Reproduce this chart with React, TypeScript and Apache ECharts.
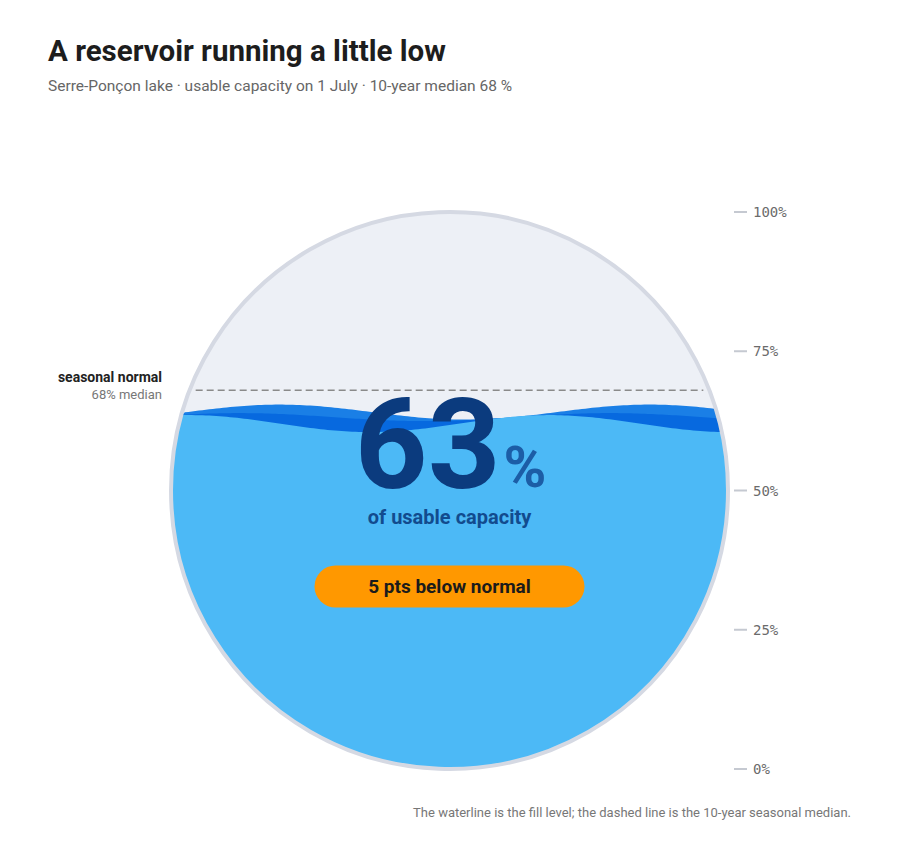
import React, { useEffect, useRef } from 'react';
import * as echarts from 'echarts';

// reservoir reading on 1 July, in % of usable capacity
const fillLevel = 63;
const medianLevel = 68;
const axisTicks = [0, 25, 50, 75, 100];

const titleText = 'A reservoir running a little low';
const subtitleText = 'Serre-Ponçon lake · usable capacity on 1 July · 10-year median 68 %';
const footnoteText = 'The waterline is the fill level; the dashed line is the 10-year seasonal median.';

// wave layers (pixels, relative to the waterline and circle centre)
const waves = [
  { color: '#1a7fe6', shift: -6, amp: 7.5, crest: -170, period: 370 },
  { color: '#0769df', shift: -1, amp: 4, crest: -210, period: 370 },
  { color: '#4cb9f6', shift: 5.5, amp: 8.5, crest: -260, period: 360 },
];

const FONT = 'Roboto, "Noto Sans", sans-serif';

const App: React.FC = () => {
  const chartRef = useRef<HTMLDivElement | null>(null);

  useEffect(() => {
    if (!chartRef.current) return;
    const chart = echarts.init(chartRef.current, null, { renderer: 'svg' });

    const renderItem = (params: any, api: any) => {
      const [cx, cy] = api.coord([0, 50]);
      const r = api.size([0, 100])[1] / 2;
      const levelY = api.coord([0, api.value(1)])[1];
      const medianY = api.coord([0, medianLevel])[1];

      const children: any[] = [];
      children.push({
        type: 'circle',
        shape: { cx, cy, r },
        style: { fill: '#edf0f6' },
      });

      const N = 160;
      waves.forEach((w) => {
        const top: number[][] = [];
        const bottom: number[][] = [];
        for (let i = 0; i <= N; i++) {
          const x = cx - r + (2 * r * i) / N;
          const dx = x - cx;
          const h = Math.sqrt(Math.max(0, r * r - dx * dx));
          const wy =
            levelY + w.shift - w.amp * Math.cos((2 * Math.PI * (dx - w.crest)) / w.period);
          const yt = Math.min(Math.max(wy, cy - h), cy + h);
          top.push([x, yt]);
          bottom.push([x, cy + h]);
        }
        children.push({
          type: 'polygon',
          shape: { points: top.concat(bottom.reverse()) },
          style: { fill: w.color },
        });
      });

      children.push({
        type: 'circle',
        shape: { cx, cy, r },
        style: { fill: 'none', stroke: '#d5d9e3', lineWidth: 4 },
      });

      // axis tick marks beside the tank
      axisTicks.forEach((t) => {
        const ty = api.coord([0, t])[1];
        children.push({
          type: 'line',
          shape: { x1: cx + r + 6, y1: ty, x2: cx + r + 19, y2: ty },
          style: { stroke: '#c5c9d1', lineWidth: 2 },
        });
      });

      const mdy = medianY - cy;
      const half = Math.sqrt(r * r - mdy * mdy) - 6;
      children.push({
        type: 'line',
        shape: { x1: cx - half, y1: medianY, x2: cx + half, y2: medianY },
        style: { stroke: '#8a8a8a', lineWidth: 1.5, lineDash: [7, 4] },
      });

      children.push({
        type: 'text',
        style: {
          text: String(api.value(1)),
          x: cx + 51,
          y: cy + 3.5,
          align: 'right',
          verticalAlign: 'bottom',
          lineHeight: 100,
          font: `bold 127px ${FONT}`,
          fill: '#0b3b7e',
        },
      });
      children.push({
        type: 'text',
        style: {
          text: '%',
          x: cx + 54,
          y: cy + 5,
          align: 'left',
          verticalAlign: 'bottom',
          font: `bold 58px ${FONT}`,
          fill: '#1c5da6',
        },
      });
      children.push({
        type: 'text',
        style: {
          text: 'of usable capacity',
          x: cx,
          y: cy + 26,
          align: 'center',
          verticalAlign: 'middle',
          font: `bold 20px ${FONT}`,
          fill: '#124b8e',
        },
      });
      children.push({
        type: 'rect',
        shape: { x: cx - 135, y: cy + 75, width: 270, height: 42, r: 21 },
        style: { fill: '#ff9800' },
      });
      children.push({
        type: 'text',
        style: {
          text: `${medianLevel - api.value(1)} pts below normal`,
          x: cx,
          y: cy + 96,
          align: 'center',
          verticalAlign: 'middle',
          font: `bold 19px ${FONT}`,
          fill: '#1b1b1b',
        },
      });

      children.push({
        type: 'text',
        style: {
          text: 'seasonal normal',
          x: 162,
          y: medianY - 13,
          align: 'right',
          verticalAlign: 'middle',
          font: `bold 14px ${FONT}`,
          fill: '#222222',
        },
      });
      children.push({
        type: 'text',
        style: {
          text: `${medianLevel}% median`,
          x: 162,
          y: medianY + 4,
          align: 'right',
          verticalAlign: 'middle',
          font: `13px ${FONT}`,
          fill: '#777777',
        },
      });

      return { type: 'group', children };
    };

    chart.setOption({
      animation: false,
      backgroundColor: '#ffffff',
      grid: { left: 171, right: 172, top: 212, bottom: 82 },
      xAxis: { type: 'value', min: -50, max: 50, show: false },
      yAxis: {
        type: 'value',
        position: 'right',
        offset: 5,
        min: axisTicks[0],
        max: axisTicks[axisTicks.length - 1],
        interval: axisTicks[1] - axisTicks[0],
        axisLine: { show: false },
        axisTick: { show: false },
        axisLabel: {
          formatter: '{value}%',
          fontFamily: 'DejaVu Sans Mono',
          fontSize: 14,
          color: '#6b6b6b',
          margin: 20,
        },
        splitLine: { show: false },
      },
      series: [
        {
          type: 'custom',
          coordinateSystem: 'cartesian2d',
          renderItem,
          data: [[0, fillLevel]],
          clip: false,
          silent: true,
        },
      ],
      graphic: [
        {
          type: 'text',
          left: 48,
          top: 36,
          style: { text: titleText, font: `bold 29.5px ${FONT}`, fill: '#1d1d1d' },
        },
        {
          type: 'text',
          left: 48,
          top: 78,
          style: { text: subtitleText, font: `15.5px ${FONT}`, fill: '#666666' },
        },
        {
          type: 'text',
          right: 49,
          top: 806,
          style: { text: footnoteText, font: `13px ${FONT}`, fill: '#777777' },
        },
      ],
    });

    const resizeHandler = () => chart.resize();
    window.addEventListener('resize', resizeHandler);
    return () => {
      window.removeEventListener('resize', resizeHandler);
      chart.dispose();
    };
  }, []);

  return (
    <div
      ref={chartRef}
      style={{ position: 'fixed', left: 0, top: 0, width: '900px', height: '851px' }}
    />
  );
};

export default App;
